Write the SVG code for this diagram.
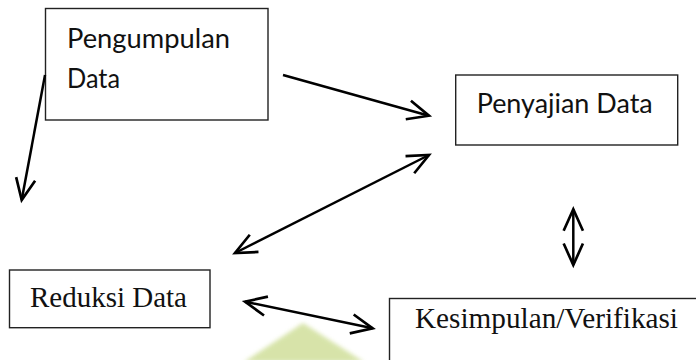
<svg xmlns="http://www.w3.org/2000/svg" width="696" height="360" viewBox="0 0 696 360">
  <style>
    .box { fill: #ffffff; stroke: #222222; stroke-width: 1.4; }
    .sans { font-family: Lato, "Open Sans", "Liberation Sans", sans-serif; font-size: 26px; fill: #111111; }
    .serif { font-family: "Liberation Serif", "Times New Roman", serif; font-size: 29px; fill: #111111; }
    .conn { fill: none; stroke: #000000; stroke-width: 2.5; }
  </style>
  <defs>
    <marker id="arr" markerUnits="userSpaceOnUse" markerWidth="30" markerHeight="30" refX="0" refY="0" viewBox="-24 -14 28 28" orient="auto-start-reverse" overflow="visible">
      <path d="M-20,-9 L0,0 L-20,9" fill="none" stroke="#000000" stroke-width="2.5" stroke-linejoin="miter"/>
    </marker>
    <filter id="soft" x="-20%" y="-20%" width="140%" height="140%">
      <feGaussianBlur stdDeviation="2"/>
    </filter>
  </defs>
  <rect width="696" height="360" fill="#ffffff"/>

  <!-- faint watermark -->
  <polygon points="303,323 244,362 364,362" fill="#d3e1a0" filter="url(#soft)" opacity="0.9"/>

  <g id="pengumpulan">
    <rect class="box" x="45.5" y="8.5" width="222.5" height="111.5"/>
    <text class="sans" x="67" y="48.3" textLength="163" lengthAdjust="spacingAndGlyphs">Pengumpulan</text>
    <text class="sans" x="67" y="88.3" textLength="53" lengthAdjust="spacingAndGlyphs">Data</text>
  </g>

  <g id="penyajian">
    <rect class="box" x="455.7" y="75" width="222" height="70"/>
    <text class="sans" x="476.7" y="113.3" textLength="176" lengthAdjust="spacingAndGlyphs">Penyajian Data</text>
  </g>

  <g id="reduksi">
    <rect class="box" x="9.5" y="270" width="200.5" height="57.7"/>
    <text class="serif" x="30" y="306.7" textLength="157" lengthAdjust="spacingAndGlyphs">Reduksi Data</text>
  </g>

  <g id="kesimpulan">
    <rect class="box" x="389.5" y="298.5" width="330" height="100"/>
    <text class="serif" x="415" y="327.7" textLength="263" lengthAdjust="spacingAndGlyphs">Kesimpulan/Verifikasi</text>
  </g>

  <g id="connectors">
    <line class="conn" x1="45" y1="75" x2="21.7" y2="200" marker-end="url(#arr)"/>
    <line class="conn" x1="283" y1="75" x2="429" y2="115.7" marker-end="url(#arr)"/>
    <line class="conn" x1="235" y1="253" x2="429" y2="155" marker-start="url(#arr)" marker-end="url(#arr)"/>
    <line class="conn" x1="245" y1="301.7" x2="372.7" y2="328.3" marker-start="url(#arr)" marker-end="url(#arr)"/>
    <line class="conn" x1="573.3" y1="209.3" x2="573.3" y2="265" marker-start="url(#arr)" marker-end="url(#arr)"/>
  </g>
</svg>
